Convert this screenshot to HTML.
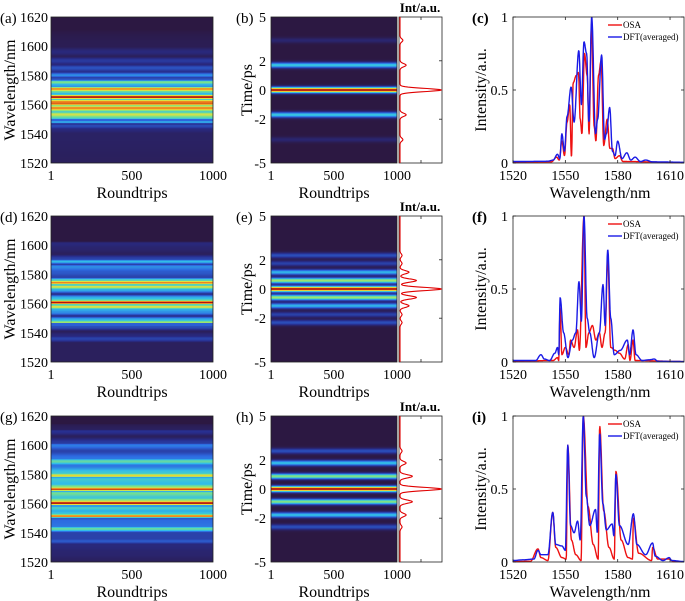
<!DOCTYPE html>
<html><head><meta charset="utf-8"><style>
html,body{margin:0;padding:0;background:#fff;}
svg{display:block;}
text{font-family:"Liberation Serif","DejaVu Serif",serif;}
</style></head><body>
<svg id="fig" width="685" height="601" viewBox="0 0 685 601" xmlns="http://www.w3.org/2000/svg"></svg>
<script>
// ---------- DATA ----------
const rowTitles = [["(a)","(b)","(c)"],["(d)","(e)","(f)"],["(g)","(h)","(i)"]];
const wlTicks = [1520,1540,1560,1580,1600,1620];
const rtTicks = [1,500,1000];
const timeTicks = [-5,-2,0,2,5];
const specTicks = [1520,1550,1580,1610];
const intTicks = [0,0.5,1];

const dftC = [[1520,0.01],[1540,0.012],[1543,0.02],[1545.5,0.06],[1546.8,0.03],[1548,0.2],[1549.5,0.08],[1551,0.32],[1553.3,0.52],[1555,0.28],[1557.7,0.77],[1559.2,0.4],[1560.7,0.83],[1562.2,0.75],[1563.5,0.28],[1565.1,1.0],[1567.3,0.2],[1568.5,0.3],[1570.8,0.74],[1572.5,0.16],[1573.5,0.2],[1575.4,0.38],[1577,0.08],[1578.5,0.05],[1580,0.15],[1582.5,0.03],[1585.2,0.07],[1587.5,0.02],[1590,0.04],[1593,0.01],[1596,0.02],[1600,0.008],[1618,0.005]];
const osaC = [[1520,0.005],[1542,0.008],[1545,0.04],[1546.5,0.02],[1548,0.15],[1549.5,0.05],[1551,0.28],[1552.5,0.4],[1553.5,0.04],[1554.5,0.55],[1556.3,0.6],[1557.5,0.62],[1558.5,0.3],[1559.5,0.2],[1561,0.75],[1562.5,0.6],[1563.6,0.2],[1565,0.95],[1566.5,0.25],[1567.5,0.15],[1569,0.6],[1570.5,0.7],[1572,0.12],[1574,0.3],[1575.5,0.1],[1577,0.1],[1578.5,0.03],[1581,0.05],[1583,0.01],[1618,0.003]];
const dftF = [[1520,0.01],[1533,0.01],[1536,0.05],[1538,0.02],[1541,0.01],[1544,0.06],[1545.5,0.1],[1546.2,0.05],[1547,0.44],[1549,0.2],[1551.5,0.03],[1554,0.15],[1556,0.2],[1557.8,0.55],[1559.2,0.28],[1560.7,1.0],[1562.5,0.3],[1564,0.2],[1566.5,0.03],[1569.5,0.2],[1571.6,0.53],[1572.8,0.25],[1574.3,0.77],[1576,0.3],[1578,0.05],[1581.5,0.08],[1585.5,0.15],[1586.8,0.05],[1588.8,0.22],[1590.5,0.05],[1594,0.01],[1598,0.015],[1601,0.02],[1603,0.005],[1618,0.003]];
const osaF = [[1520,0.005],[1543,0.01],[1545.5,0.03],[1546.2,0.01],[1547,0.37],[1548,0.05],[1550,0.1],[1552,0.05],[1553,0.15],[1555,0.1],[1557,0.22],[1558,0.08],[1560.7,1.0],[1561.8,0.1],[1563.5,0.2],[1565.5,0.25],[1567.5,0.15],[1569.5,0.2],[1571,0.1],[1572.8,0.2],[1574.3,0.72],[1576,0.1],[1578.5,0.08],[1581,0.06],[1584,0.02],[1586,0.12],[1587,0.01],[1588.8,0.15],[1590,0.01],[1618,0.003]];
const dftI = [[1520,0.01],[1526,0.015],[1532,0.02],[1534.3,0.08],[1536,0.05],[1540,0.05],[1542.8,0.34],[1544.5,0.12],[1548,0.11],[1550,0.08],[1551.4,0.8],[1553,0.25],[1555,0.2],[1557,0.28],[1558.5,0.15],[1560.3,1.0],[1562,0.45],[1564,0.25],[1567.3,0.36],[1568.3,0.2],[1569.7,0.88],[1571.5,0.4],[1573.5,0.22],[1576.8,0.26],[1577.8,0.18],[1579,0.6],[1581,0.25],[1586,0.12],[1589,0.33],[1591,0.12],[1596,0.05],[1600,0.13],[1601.5,0.04],[1606,0.01],[1609.5,0.03],[1611,0.01],[1618,0.003]];
const osaI = [[1520,0.003],[1530,0.005],[1534.3,0.09],[1536,0.03],[1540,0.01],[1542.8,0.34],[1544.5,0.1],[1548,0.03],[1550.5,0.02],[1551.4,0.8],[1553.5,0.15],[1556,0.05],[1559,0.01],[1560.3,1.0],[1563,0.38],[1566,0.12],[1568.8,0.02],[1569.7,0.93],[1572,0.35],[1575,0.1],[1578,0.02],[1579,0.62],[1582,0.15],[1586,0.03],[1588.5,0.02],[1589,0.3],[1592,0.06],[1599.5,0.01],[1600,0.1],[1603,0.02],[1609.5,0.02],[1612,0.003],[1618,0.002]];

const pulseTimesB = [-3.4,-1.7,0,1.7,3.4];
const pulseAmpB   = [0.06,0.42,1.0,0.42,0.06];
const sideAmpB    = [0.07,0.15,1.0,0.15,0.07];
const pulseTimesE = [-2.3,-1.75,-1.15,-0.58,0,0.58,1.15,1.75,2.3];
const pulseAmpE   = [0.18,0.15,0.38,0.6,1.0,0.6,0.38,0.15,0.18];
const sideAmpE    = [0.05,0.05,0.22,0.4,1.0,0.4,0.22,0.05,0.05];
const pulseTimesH = [-2.6,-1.78,-0.87,0,0.87,1.78,2.6];
const pulseAmpH   = [0.18,0.4,0.56,1.0,0.56,0.4,0.18];
const sideAmpH    = [0.05,0.15,0.3,1.0,0.3,0.15,0.05];

// ---------- HELPERS ----------
const NS="http://www.w3.org/2000/svg";
const fig=document.getElementById('fig');
function mk(tag,attrs,parent){const e=document.createElementNS(NS,tag);for(const k in attrs)e.setAttribute(k,attrs[k]);(parent||fig).appendChild(e);return e;}
function txt(s,x,y,size,anchor,parent,extra){const t=mk('text',Object.assign({x:x,y:y,'font-size':size,'text-anchor':anchor||'middle',fill:'#000','font-family':'Liberation Serif, DejaVu Serif, serif'},extra||{}),parent);t.textContent=s;return t;}
function interp(arr,x){if(x<=arr[0][0])return arr[0][1];for(let i=1;i<arr.length;i++){if(x<=arr[i][0]){const a=arr[i-1],b=arr[i];const f=(x-a[0])/(b[0]-a[0]);const g=(1-Math.cos(Math.PI*f))/2;return a[1]+(b[1]-a[1])*g;}}return arr[arr.length-1][1];}
const cmStops=[[0,[44,24,66]],[0.1,[40,45,140]],[0.25,[45,105,225]],[0.4,[50,190,232]],[0.55,[120,225,140]],[0.7,[230,225,60]],[0.85,[240,130,30]],[1,[175,15,15]]];
function cmap(v){v=Math.max(0,Math.min(1,v));for(let i=1;i<cmStops.length;i++){if(v<=cmStops[i][0]){const a=cmStops[i-1],b=cmStops[i];const f=(v-a[0])/(b[0]-a[0]);const c=a[1].map((q,j)=>Math.round(q+(b[1][j]-q)*f));return 'rgb('+c.join(',')+')';}}return 'rgb(175,15,15)';}
function pulseSum(t,times,amps,sig){let s=0;for(let i=0;i<times.length;i++){const d=(t-times[i])/sig;s+=amps[i]*Math.exp(-d*d/2);}return s;}

const rowOff=[0,199,399];
const PH=146;
const dfts=[dftC,dftF,dftI], osas=[osaC,osaF,osaI];
const pT=[pulseTimesB,pulseTimesE,pulseTimesH], pA=[pulseAmpB,pulseAmpE,pulseAmpH], sA=[sideAmpB,sideAmpE,sideAmpH];

for(let r=0;r<3;r++){
  const top=17+rowOff[r], bot=top+PH;
  // ===== wavelength heatmap =====
  const gA=mk('g',{});
  
  
  const ax0=51, ax1=213;
  const wy=w=>bot-(w-1520)/100*PH;
  for(let y=0;y<PH;y++){
    const w=1620-(y+0.5)/PH*100;
    const v=Math.pow(Math.max(0,interp(dfts[r],w)-0.006),0.6);
    const rc=mk('rect',{x:ax0,y:top+y,width:ax1-ax0,height:1.05,fill:cmap(v)},gA);
    
    
  }
  mk('rect',{x:ax0,y:top,width:ax1-ax0,height:PH,fill:'none',stroke:'#222','stroke-width':0.8},gA);
  wlTicks.forEach(t=>{const l=txt(String(t),48,wy(t)+5,14,'end',gA);});
  rtTicks.forEach(t=>{const x=ax0+(t-1)/999*(ax1-ax0);const l=txt(String(t),x,top+PH+17,14,'middle',gA);});
  let l=txt('Roundtrips',132,top+PH+35,16,'middle',gA);
  l=txt('Wavelength/nm',0,0,16,'middle',gA,{transform:'translate(15,'+(top+73)+') rotate(-90)'});
  l=txt(rowTitles[r][0],0,top+6,15,'start',gA);

  // ===== time heatmap =====
  const gB=mk('g',{});
  
  
  const bx0=271,bx1=397;
  const ty=t=>top+(5-t)/10*PH;
  for(let y=0;y<PH;y++){
    const t=5-(y+0.5)/PH*10;
    const v=Math.min(1,pulseSum(t,pT[r],pA[r],0.13));
    const rc=mk('rect',{x:bx0,y:top+y,width:bx1-bx0,height:1.05,fill:cmap(v)},gB);
    
    
  }
  mk('rect',{x:bx0,y:top,width:bx1-bx0,height:PH,fill:'none',stroke:'#222','stroke-width':0.8},gB);
  timeTicks.forEach(t=>{const q=txt(String(t),266,ty(t)+5,14,'end',gB);});
  rtTicks.forEach(t=>{const x=bx0+(t-1)/999*(bx1-bx0);const q=txt(String(t),x,top+PH+17,14,'middle',gB);});
  l=txt('Roundtrips',334,top+PH+35,16,'middle',gB);
  l=txt('Time/ps',0,0,16,'middle',gB,{transform:'translate(252,'+(top+73)+') rotate(-90)'});
  l=txt(rowTitles[r][1],236,top+6,15,'start',gB);

  // side intensity profile
  const gS=mk('g',{});
  
  
  const sx0=399,sx1=442;
  mk('rect',{x:sx0,y:top,width:sx1-sx0,height:PH,fill:'#fff',stroke:'#222','stroke-width':0.8},gS);
  [2,0,-2].forEach(t=>mk('line',{x1:sx1,x2:sx1-3,y1:ty(t),y2:ty(t),stroke:'#222','stroke-width':0.8},gS));
  mk('line',{x1:421,x2:421,y1:top,y2:top+3,stroke:'#222','stroke-width':0.8},gS);
  mk('line',{x1:421,x2:421,y1:bot,y2:bot-3,stroke:'#222','stroke-width':0.8},gS);
  let pts=[];
  for(let i=0;i<=400;i++){const t=5-i/400*10;const v=Math.min(1,pulseSum(t,pT[r],sA[r],0.11));pts.push((sx0+1+v*(sx1-sx0-2)).toFixed(1)+','+ty(t).toFixed(1));}
  const pl=mk('polyline',{points:pts.join(' '),fill:'none',stroke:'#e00000','stroke-width':1.1},gS);
  
  
  l=txt('Int/a.u.',420,top-5,13,'middle',gS,{'font-weight':'bold'});

  // ===== spectrum line plot =====
  const gC=mk('g',{});
  
  
  const cx0=513,cx1=684, xmin=1520,xmax=1618;
  const sx=w=>cx0+(w-xmin)/(xmax-xmin)*(cx1-cx0);
  const sy=v=>bot-v*PH;
  mk('rect',{x:cx0,y:top,width:cx1-cx0,height:PH,fill:'#fff'},gC);
  const mkLine=(arr,col,name)=>{const p=[];for(let w=xmin;w<=xmax;w+=0.2){p.push(sx(w).toFixed(1)+','+sy(interp(arr,w)).toFixed(1));}const e=mk('polyline',{points:p.join(' '),fill:'none',stroke:col,'stroke-width':1.4,'stroke-linejoin':'round'},gC);};
  mkLine(osas[r],'#ee1111','osa-line');
  mkLine(dfts[r],'#1a1ae6','dft-line');
  mk('rect',{x:cx0,y:top,width:cx1-cx0,height:PH,fill:'none',stroke:'#222','stroke-width':0.8},gC);
  specTicks.forEach(t=>{const x=sx(t);mk('line',{x1:x,x2:x,y1:bot,y2:bot-3,stroke:'#222','stroke-width':0.8},gC);mk('line',{x1:x,x2:x,y1:top,y2:top+3,stroke:'#222','stroke-width':0.8},gC);const q=txt(String(t),x,top+PH+17,14,'middle',gC);});
  intTicks.forEach(t=>{const y=sy(t);mk('line',{x1:cx0,x2:cx0+3,y1:y,y2:y,stroke:'#222','stroke-width':0.8},gC);mk('line',{x1:cx1,x2:cx1-3,y1:y,y2:y,stroke:'#222','stroke-width':0.8},gC);const q=txt(String(t),508,y+5,14,'end',gC);});
  l=txt('Wavelength/nm',600,top+PH+35,16,'middle',gC);
  l=txt('Intensity/a.u.',0,0,16,'middle',gC,{transform:'translate(486,'+(top+73)+') rotate(-90)'});
  l=txt(rowTitles[r][2],472,top+6,15,'start',gC,{'font-weight':'bold'});
  // legend
  const lg=mk('g',{},gC);
  
  
  mk('line',{x1:608,x2:622,y1:top+8,y2:top+8,stroke:'#ee1111','stroke-width':1.4},lg);
  l=txt('OSA',623,top+11,9,'start',lg);
  mk('line',{x1:608,x2:622,y1:top+20,y2:top+20,stroke:'#1a1ae6','stroke-width':1.4},lg);
  l=txt('DFT(averaged)',623,top+23,9,'start',lg);
}
</script>
</body></html>
